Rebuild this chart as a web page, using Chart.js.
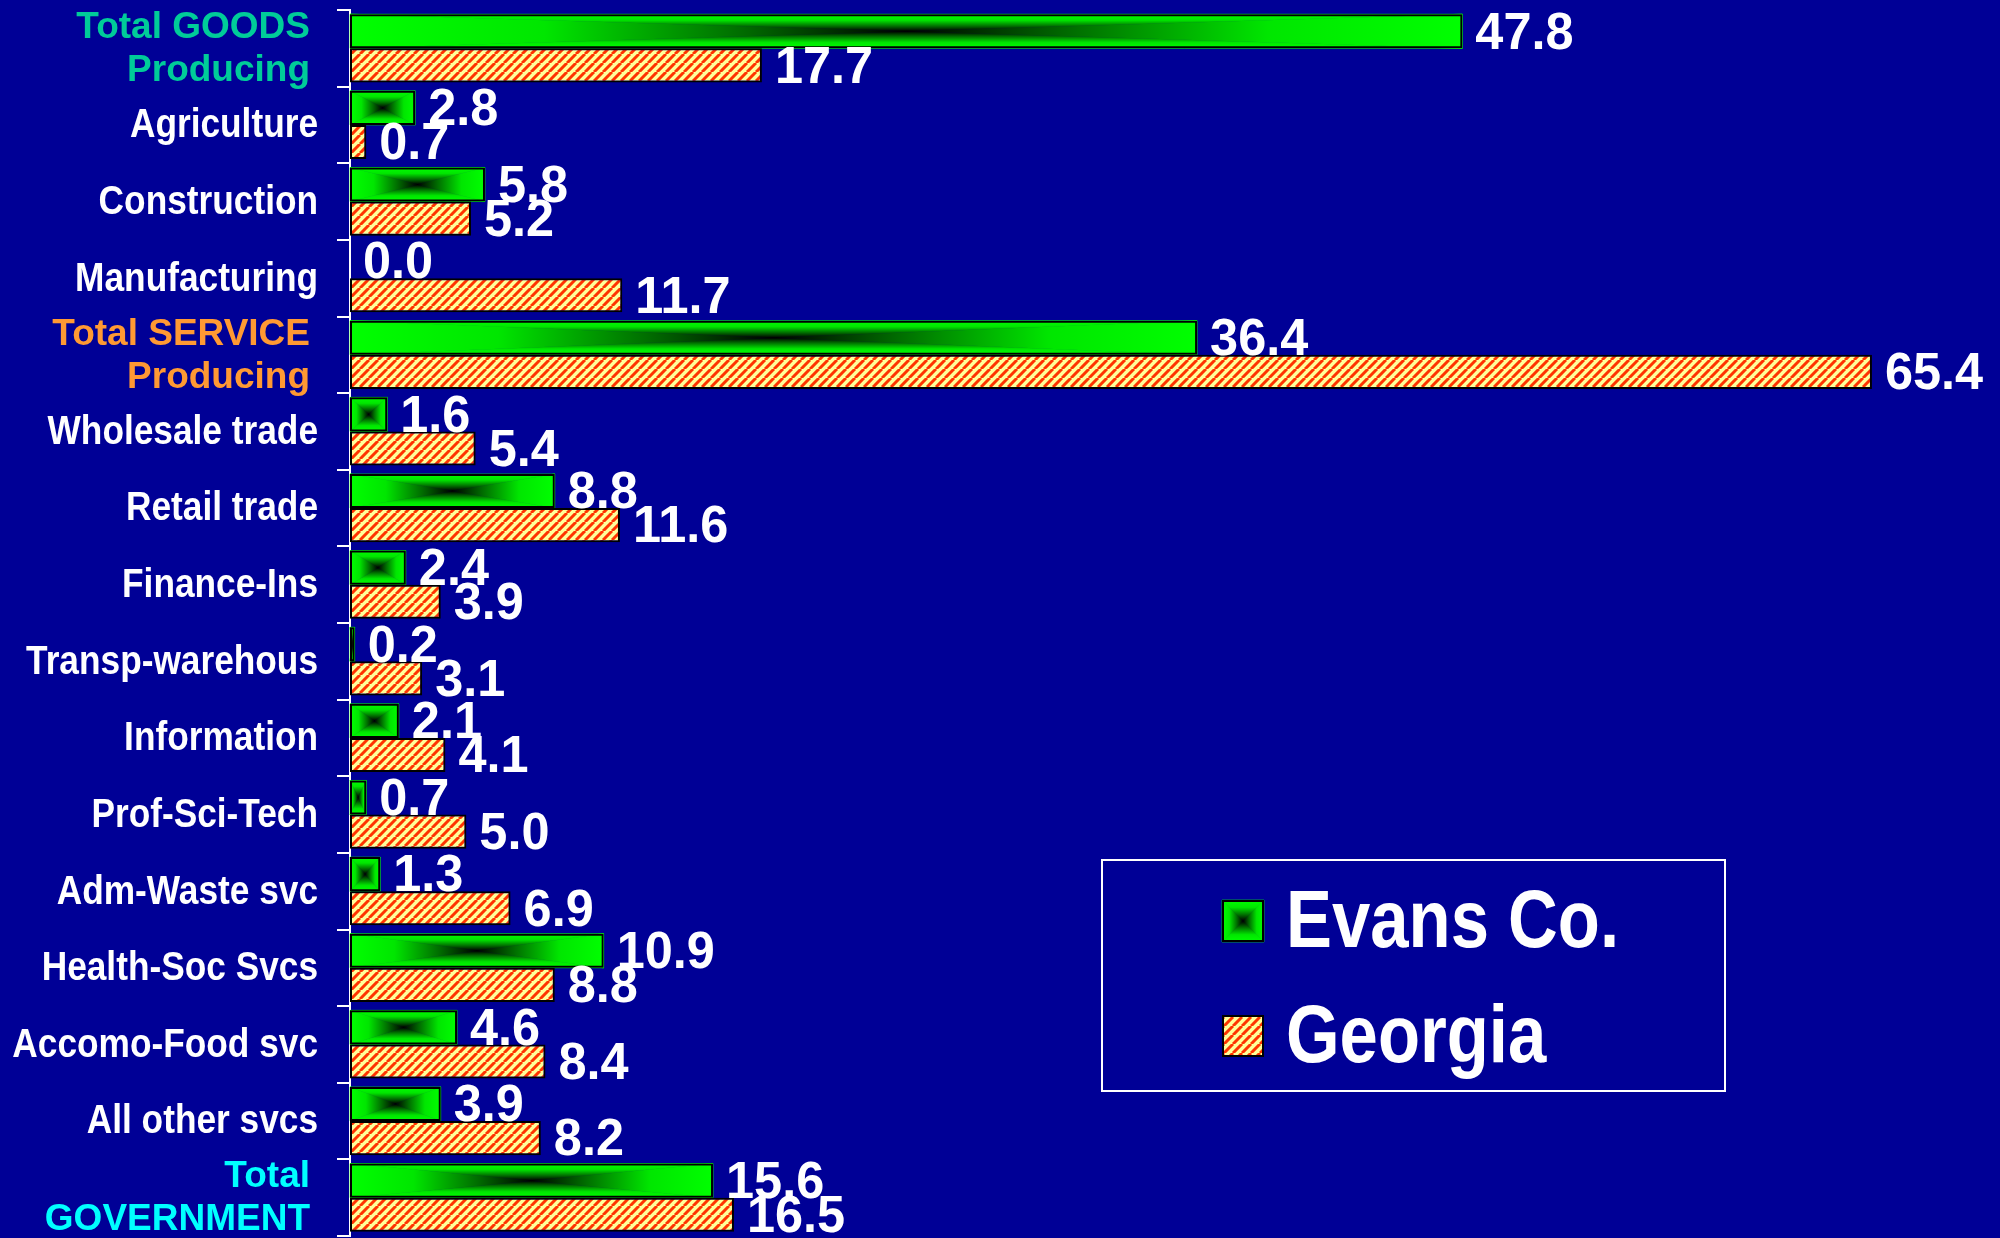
<!DOCTYPE html>
<html>
<head>
<meta charset="utf-8">
<script src="https://cdn.jsdelivr.net/npm/chart.js@4.4.1/dist/chart.umd.min.js"></script>
<style>
  html, body { margin: 0; padding: 0; background: #000096; }
  canvas { display: block; }
</style>
</head>
<body>
<canvas id="myChart" width="2000" height="1238"></canvas>
<script>
"use strict";

// Datos
const categories = [
  ["Total GOODS", "Producing"],
  "Agriculture",
  "Construction",
  "Manufacturing",
  ["Total SERVICE", "Producing"],
  "Wholesale trade",
  "Retail trade",
  "Finance-Ins",
  "Transp-warehous",
  "Information",
  "Prof-Sci-Tech",
  "Adm-Waste svc",
  "Health-Soc Svcs",
  "Accomo-Food svc",
  "All other svcs",
  ["Total", "GOVERNMENT"],
];
const evansValues = [47.8, 2.8, 5.8, 0.0, 36.4, 1.6, 8.8, 2.4, 0.2, 2.1, 0.7, 1.3, 10.9, 4.6, 3.9, 15.6];
const georgiaValues = [17.7, 0.7, 5.2, 11.7, 65.4, 5.4, 11.6, 3.9, 3.1, 4.1, 5.0, 6.9, 8.8, 8.4, 8.2, 16.5];
const seriesNames = ["Evans Co.", "Georgia"];

// Estilos
const FONT = "'Liberation Sans', Arial, sans-serif";
const totalColors = { 0: "#00cc99", 4: "#ff9933", 15: "#00ffff" };

function makeHatch(ctx) {
  const s = 9;
  const c = document.createElement("canvas");
  c.width = s;
  c.height = s;
  const g = c.getContext("2d");
  g.fillStyle = "#ffff99";
  g.fillRect(0, 0, s, s);
  g.strokeStyle = "#ff3300";
  g.lineWidth = 3;
  g.beginPath();
  for (let k = -1; k <= 1; k++) {
    g.moveTo(k * s, s);
    g.lineTo(k * s + s, 0);
  }
  g.stroke();
  return ctx.createPattern(c, "repeat");
}

// degradado rectangular: verde en los bordes, negro en el centro
function fillPyramid(ctx, x0, y0, x1, y1) {
  const cx = (x0 + x1) / 2;
  const cy = (y0 + y1) / 2;
  const stops = (gr) => {
    gr.addColorStop(0, "#00ff00");
    gr.addColorStop(0.35, "#00e600");
    gr.addColorStop(0.7, "#006e00");
    gr.addColorStop(1, "#000000");
    return gr;
  };
  const tris = [
    [[x0, y0], [x1, y0], [cx, y0]],
    [[x0, y1], [x1, y1], [cx, y1]],
    [[x0, y0], [x0, y1], [x0, cy]],
    [[x1, y0], [x1, y1], [x1, cy]],
  ];
  tris.forEach(([a, b, from]) => {
    ctx.beginPath();
    ctx.moveTo(a[0], a[1]);
    ctx.lineTo(b[0], b[1]);
    ctx.lineTo(cx, cy);
    ctx.closePath();
    ctx.fillStyle = stops(ctx.createLinearGradient(from[0], from[1], cx, cy));
    ctx.fill();
    ctx.lineWidth = 0.6;
    ctx.strokeStyle = ctx.fillStyle;
    ctx.stroke();
  });
}

// texto estrechado horizontalmente
function narrowText(ctx, text, x, y, sx) {
  ctx.save();
  ctx.translate(x, y);
  ctx.scale(sx, 1);
  ctx.fillText(text, 0, 0);
  ctx.restore();
}

const canvas = document.querySelector("#myChart");
const hatch = makeHatch(canvas.getContext("2d"));

const gradientBars = {
  id: "gradientBars",
  beforeDatasetsDraw(chart) {
    const ctx = chart.ctx;
    const meta = chart.getDatasetMeta(0);
    ctx.save();
    meta.data.forEach((bar) => {
      const p = bar.getProps(["x", "y", "base", "height"], true);
      const x0 = Math.min(p.x, p.base);
      const x1 = Math.max(p.x, p.base);
      if (x1 - x0 < 0.5) return;
      fillPyramid(ctx, x0, p.y - p.height / 2, x1, p.y + p.height / 2);
    });
    ctx.restore();
  },
};

const categoryLabels = {
  id: "categoryLabels",
  afterDraw(chart) {
    const ctx = chart.ctx;
    const scale = chart.scales.y;
    ctx.save();
    ctx.textAlign = "right";
    ctx.textBaseline = "middle";
    chart.data.labels.forEach((label, i) => {
      const y = scale.getPixelForTick(i);
      const lines = Array.isArray(label) ? label : [label];
      const isTotal = totalColors[i] !== undefined;
      ctx.fillStyle = isTotal ? totalColors[i] : "#ffffff";
      ctx.font = "bold " + (isTotal ? 37 : 41) + "px " + FONT;
      const lh = 43;
      const right = isTotal ? 310 : 318;
      const sx = isTotal ? 1.0 : 0.86;
      lines.forEach((line, k) => {
        const ly = y + (k - (lines.length - 1) / 2) * lh + 1;
        narrowText(ctx, line, right, ly, sx);
      });
    });
    ctx.restore();
  },
};

const valueLabels = {
  id: "valueLabels",
  afterDatasetsDraw(chart) {
    const ctx = chart.ctx;
    ctx.save();
    ctx.font = "bold 52px " + FONT;
    ctx.fillStyle = "#ffffff";
    ctx.textAlign = "left";
    ctx.textBaseline = "middle";
    chart.data.datasets.forEach((ds, di) => {
      chart.getDatasetMeta(di).data.forEach((bar, i) => {
        const p = bar.getProps(["x", "y"], true);
        narrowText(ctx, ds.data[i].toFixed(1), p.x + 13, p.y + 3, 0.97);
      });
    });
    ctx.restore();
  },
};

const boxLegend = {
  id: "boxLegend",
  afterDraw(chart) {
    const ctx = chart.ctx;
    const box = { x: 1102, y: 860, w: 623, h: 231 };
    ctx.save();
    ctx.strokeStyle = "#ffffff";
    ctx.lineWidth = 2;
    ctx.strokeRect(box.x, box.y, box.w, box.h);
    ctx.font = "bold 82px " + FONT;
    ctx.textBaseline = "middle";
    const rows = [921, 1036];
    chart.data.datasets.forEach((ds, di) => {
      const cy = rows[di];
      const sx = 1222, sy = cy - 21, sz = 42;
      if (di === 0) {
        fillPyramid(ctx, sx, sy, sx + sz, sy + sz);
      } else {
        ctx.fillStyle = hatch;
        ctx.fillRect(sx, sy, sz, sz);
      }
      ctx.strokeStyle = "#000000";
      ctx.lineWidth = 2;
      ctx.strokeRect(sx + 1, sy + 1, sz - 2, sz - 2);
      ctx.fillStyle = "#ffffff";
      narrowText(ctx, ds.label, 1286, cy + 3, 0.84);
    });
    ctx.restore();
  },
};

const data = {
  labels: categories,
  datasets: [
    {
      label: seriesNames[0],
      data: evansValues,
      backgroundColor: "rgba(0,0,0,0)",
      borderColor: "#000000",
      borderWidth: (c) => (c.raw === 0 ? 0 : 2),
      borderSkipped: false,
    },
    {
      label: seriesNames[1],
      data: georgiaValues,
      backgroundColor: hatch,
      borderColor: "#000000",
      borderWidth: 2,
      borderSkipped: false,
    },
  ],
};

const config = {
  type: "bar",
  data,
  options: {
    indexAxis: "y",
    responsive: false,
    animation: false,
    categoryPercentage: 0.89,
    barPercentage: 1.0,
    layout: { padding: { top: 10, bottom: 2, right: 21, left: 0 } },
    plugins: {
      legend: { display: false },
      tooltip: { enabled: false },
    },
    scales: {
      x: {
        display: false,
        min: 0,
        max: 70,
      },
      y: {
        afterFit(scale) {
          scale.width = 350;
          scale.paddingTop = 0;
          scale.paddingBottom = 0;
        },
        border: { display: true, color: "#ffffff", width: 2 },
        grid: {
          drawOnChartArea: false,
          drawTicks: true,
          tickLength: 13,
          color: "#ffffff",
          lineWidth: 2,
        },
        ticks: {
          display: false,
          autoSkip: false,
        },
      },
    },
  },
  plugins: [gradientBars, valueLabels, categoryLabels, boxLegend],
};

const myChart = new Chart(canvas, config);
</script>
</body>
</html>
